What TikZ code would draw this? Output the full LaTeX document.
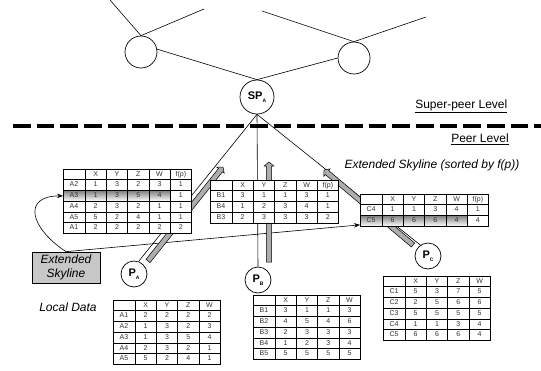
\documentclass[tikz,border=0pt]{standalone}
\usepackage{fontspec}
\setmainfont{Liberation Sans}
\usetikzlibrary{calc,arrows.meta}
\pgfdeclarelayer{back}
\pgfsetlayers{back,main}
\definecolor{shade}{gray}{0.78}
\definecolor{fatgray}{gray}{0.68}
\definecolor{boxgray}{gray}{0.78}
\newcommand\fatarrowX[2]{%
  \coordinate (hbX) at ($(#2)!4pt!(#1)$);
  \filldraw[fatstyle]
    ($(#1)!2.6pt!90:(#2)$) -- ($(hbX)!2.6pt!90:(#2)$) -- ($(hbX)!4.8pt!90:(#2)$) -- (#2)
    -- ($(hbX)!4.8pt!-90:(#2)$) -- ($(hbX)!2.6pt!-90:(#2)$) -- ($(#1)!2.6pt!-90:(#2)$) -- cycle;}
% table grid: x0, y0, data columns, rows, shaded row (0 = none)
\newcommand\tgrid[5]{%
  \pgfmathsetmacro\tw{22+#3*21.3}%
  \pgfmathsetmacro\th{#4*10.75}%
  \fill[white] (#1,#2) rectangle ++(\tw,\th);
  \ifnum#5>0 \fill[shade] (#1,{#2+(#5-1)*10.75}) rectangle ++({22+(#3-1)*21.3},10.75);\fi
  \foreach \i in {1,...,#3} \draw[tline] ({#1+22+(\i-1)*21.3},#2) -- ++(0,\th);
  \pgfmathtruncatemacro\nr{#4-1}%
  \foreach \j in {1,...,\nr} \draw[tline] (#1,{#2+\j*10.75}) -- ++(\tw,0);
  \draw[tline, line width=0.8pt] (#1,#2) rectangle ++(\tw,\th);
}
% table row: name, x0, y0, row number, cells
\newcommand\trow[5]{%
  \foreach \t [count=\c] in {#5} {%
    \pgfmathsetmacro\cx{#2+(\c==1 ? 11 : 22+(\c-1.5)*21.3)}%
    \node[celltext] (#1-#4-\c) at (\cx,{#3+(#4-0.5)*10.75}) {\t};}}
\begin{document}
\begin{tikzpicture}[x=1pt,y=-1pt,
  line width=0.6pt,
  peer/.style={circle, draw, fill=white, line width=0.7pt, minimum size=26pt, inner sep=0pt, font=\fontsize{11}{11}\selectfont\bfseries},
  topcirc/.style={circle, draw, line width=0.7pt, minimum size=32pt, inner sep=0pt},
  lbl/.style={font=\fontsize{12}{14}\selectfont, inner sep=0pt},
  ilbl/.style={font=\fontsize{12}{14}\selectfont\itshape, inner sep=0pt},
  fatstyle/.style={fill=fatgray, draw=black, line width=0.5pt},
  tline/.style={draw=black, line width=0.6pt},
  celltext/.style={inner sep=0pt, minimum width=21.3pt, minimum height=10.75pt,
    text height=5pt, text depth=1.4pt, font=\fontsize{7}{8}\selectfont, text=black!80},
  link/.style={line width=0.6pt},
  tip/.style={-{Stealth[length=6pt,width=4.5pt]}, line width=0.6pt}]
\useasboundingbox (0,0) rectangle (541,370);

% upper super-peer network
\node[topcirc] (L) at (141,52) {};
\node[topcirc] (R) at (354,58) {};
\node[peer, minimum size=34pt] (SP) at (257,97) {SP\raisebox{-2.5pt}{\fontsize{5}{5}\selectfont A}};
\coordinate (t1) at (110,0);
\coordinate (t2) at (204,9);
\coordinate (t3) at (262,11);
\coordinate (t4) at (426,17);
\draw[link] (t1) -- (L.north) -- (t2);
\draw[link] (t3) -- (R.north) -- (t4);
\draw[link] (L.10) -- (SP.north) -- (R.west);

% level separator
\coordinate (dl) at (13,126);
\coordinate (dr) at (541,126);
\draw[line width=3.5pt, dash pattern=on 17.7pt off 6pt] (dl) -- (dr);
\node[lbl, anchor=west] (sup) at (415,106) {\underline{Super-peer Level}};
\node[lbl] (peerlvl) at (480,139) {\underline{Peer Level}};
\node[ilbl] (ext) at (432,165) {Extended Skyline (sorted by f(p))};
\node[ilbl] (loc) at (68,307) {Local Data};

% peers
\node[peer] (PA) at (134,274) {P\raisebox{-2.5pt}{\fontsize{5}{5}\selectfont A}};
\node[peer] (PB) at (258,280) {P\raisebox{-2.5pt}{\fontsize{5}{5}\selectfont B}};
\node[peer] (PC) at (428,256) {P\raisebox{-2.5pt}{\fontsize{5}{5}\selectfont C}};

% box
\node[draw, fill=boxgray, minimum width=68pt, minimum height=31pt, align=center,
  font=\fontsize{12}{14.5}\selectfont\itshape, inner sep=0pt, line width=0.7pt] (box) at (66,267.5) {Extended\\Skyline};

% extended skyline of A
\tgrid{63}{169}{5}{6}{3}
\trow{tAx}{63}{169}{1}{{},X,Y,Z,W,f(p)}
\trow{tAx}{63}{169}{2}{A2,1,3,2,3,1}
\trow{tAx}{63}{169}{3}{A3,1,3,5,4,1}
\trow{tAx}{63}{169}{4}{A4,2,3,2,1,1}
\trow{tAx}{63}{169}{5}{A5,5,2,4,1,1}
\trow{tAx}{63}{169}{6}{A1,2,2,2,2,2}
% extended skyline of B
\tgrid{210}{180}{5}{4}{0}
\trow{tBx}{210}{180}{1}{{},X,Y,Z,W,f(p)}
\trow{tBx}{210}{180}{2}{B1,3,1,1,3,1}
\trow{tBx}{210}{180}{3}{B4,1,2,3,4,1}
\trow{tBx}{210}{180}{4}{B3,2,3,3,3,2}
% extended skyline of C
\tgrid{360}{194}{5}{3}{3}
\trow{tCx}{360}{194}{1}{{},X,Y,Z,W,f(p)}
\trow{tCx}{360}{194}{2}{C4,1,1,3,4,1}
\trow{tCx}{360}{194}{3}{C5,6,6,6,4,4}

% local data of A
\tgrid{113}{300}{4}{6}{0}
\trow{tAl}{113}{300}{1}{{},X,Y,Z,W}
\trow{tAl}{113}{300}{2}{A1,2,2,2,2}
\trow{tAl}{113}{300}{3}{A2,1,3,2,3}
\trow{tAl}{113}{300}{4}{A3,1,3,5,4}
\trow{tAl}{113}{300}{5}{A4,2,3,2,1}
\trow{tAl}{113}{300}{6}{A5,5,2,4,1}
% local data of B
\tgrid{253}{295}{4}{6}{0}
\trow{tBl}{253}{295}{1}{{},X,Y,Z,W}
\trow{tBl}{253}{295}{2}{B1,3,1,1,3}
\trow{tBl}{253}{295}{3}{B2,4,5,4,6}
\trow{tBl}{253}{295}{4}{B3,2,3,3,3}
\trow{tBl}{253}{295}{5}{B4,1,2,3,4}
\trow{tBl}{253}{295}{6}{B5,5,5,5,5}
% local data of C
\tgrid{383}{276}{4}{6}{0}
\trow{tCl}{383}{276}{1}{{},X,Y,Z,W}
\trow{tCl}{383}{276}{2}{C1,5,3,7,5}
\trow{tCl}{383}{276}{3}{C2,2,5,6,6}
\trow{tCl}{383}{276}{4}{C3,5,5,5,5}
\trow{tCl}{383}{276}{5}{C4,1,1,3,4}
\trow{tCl}{383}{276}{6}{C5,6,6,6,4}

% connectors behind the tables
\coordinate (fA1) at (148,261);
\coordinate (fA2) at (223,167);
\coordinate (fB1) at (269,262);
\coordinate (fB2) at (269,162);
\coordinate (fC1) at (413,245);
\coordinate (fC2) at (324,170);
\begin{pgfonlayer}{back}
\draw[link] (PA.70) -- (SP.south);
\draw[link] (PB.north) -- (SP.south);
\draw[link] (PC.125) -- (SP.south);
\draw[tip] (box.north) .. controls (30,228) and (22,196) .. (tAx-3-1.west);
\draw[tip] (box.north) -- (tCx-3-1.-160);
\fatarrowX{fA1}{fA2}
\fatarrowX{fB1}{fB2}
\fatarrowX{fC1}{fC2}
\end{pgfonlayer}
\end{tikzpicture}
\end{document}
